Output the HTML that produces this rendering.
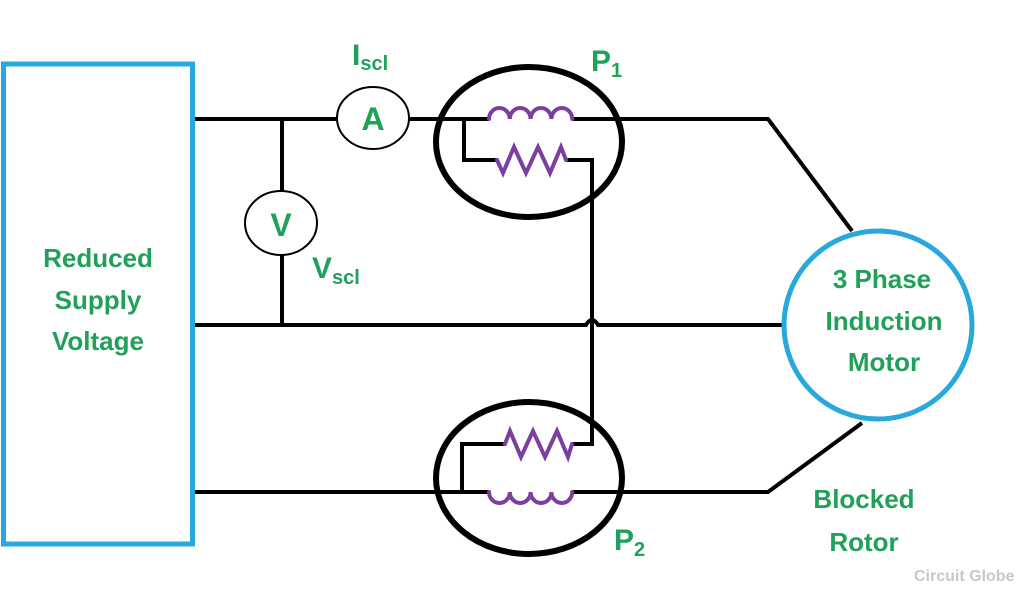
<!DOCTYPE html>
<html><head><style>body{margin:0;background:#fff}svg{display:block}</style></head><body>
<svg width="1024" height="600" viewBox="0 0 1024 600" xmlns="http://www.w3.org/2000/svg" font-family="Liberation Sans, sans-serif" font-weight="bold">
<rect width="1024" height="600" fill="#fff"/>
<rect x="3.5" y="64" width="189" height="480" fill="none" stroke="#29a8dd" stroke-width="5"/>
<g stroke="#000" stroke-width="4" fill="none">
<path d="M195 119 H337 M409 119 H489 M572 119 H768 L852 231"/>
<path d="M195 325 H586 Q592 315 598 325 H783"/>
<path d="M195 492 H489 M572 492 H768 L862 423"/>
<path d="M282 119 V191 M282 255 V325"/>
<path d="M464 119 V160 H497 M566 160 H592 V444 H572 M505 444 H462 V492"/>
</g>
<g stroke="#000" stroke-width="6" fill="none">
<ellipse cx="529" cy="142" rx="93" ry="75"/>
<ellipse cx="529" cy="478" rx="93" ry="76"/>
</g>
<g stroke="#7b3fa0" stroke-width="4" fill="none" stroke-linecap="round">
<path d="M489 119 a10.4 11 0 0 1 20.8 0 a10.4 11 0 0 1 20.8 0 a10.4 11 0 0 1 20.8 0 a10.4 11 0 0 1 20.8 0"/>
<path d="M489 492 a10.4 11 0 0 0 20.8 0 a10.4 11 0 0 0 20.8 0 a10.4 11 0 0 0 20.8 0 a10.4 11 0 0 0 20.8 0"/>
<path d="M497 160 L503 173 L514 147 L526 173 L538 147 L550 173 L561 147 L566 160"/>
<path d="M505 444 L510 431 L521 457 L533 431 L545 457 L557 431 L568 457 L572 444"/>
</g>
<ellipse cx="373" cy="118" rx="36" ry="31" fill="#fff" stroke="#000" stroke-width="2"/>
<ellipse cx="281" cy="223" rx="36" ry="32" fill="#fff" stroke="#000" stroke-width="2"/>
<circle cx="878" cy="325" r="94" fill="#fff" stroke="#29a8dd" stroke-width="5"/>
<g fill="#21a05a" text-anchor="middle">
<text x="373" y="130" font-size="32">A</text>
<text x="281" y="236" font-size="32">V</text>
<text x="98" y="267" font-size="26">Reduced</text>
<text x="98" y="309" font-size="26">Supply</text>
<text x="98" y="350" font-size="26">Voltage</text>
<text x="882" y="288" font-size="26">3 Phase</text>
<text x="884" y="330" font-size="26">Induction</text>
<text x="884" y="371" font-size="26">Motor</text>
<text x="864" y="508" font-size="26">Blocked</text>
<text x="864" y="551" font-size="26">Rotor</text>
</g>
<g fill="#21a05a">
<text x="352" y="65" font-size="30">I<tspan font-size="20" dy="5">scl</tspan></text>
<text x="312" y="278" font-size="30">V<tspan font-size="20" dy="6">scl</tspan></text>
<text x="591" y="71" font-size="30">P<tspan font-size="20" dy="6">1</tspan></text>
<text x="614" y="550" font-size="30">P<tspan font-size="20" dy="6">2</tspan></text>
</g>
<text x="914" y="581" font-size="16" fill="#c8c8c8">Circuit Globe</text>
</svg>
</body></html>
